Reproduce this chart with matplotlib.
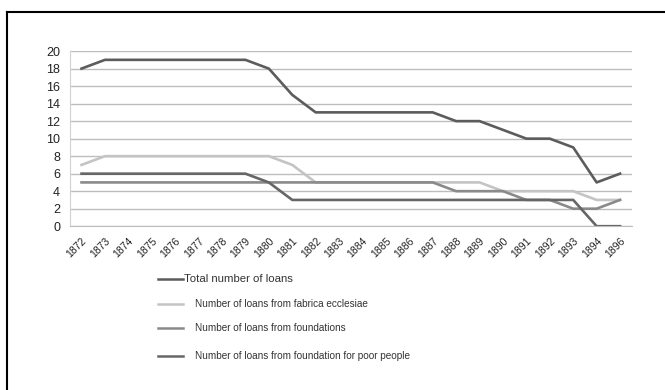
import matplotlib.pyplot as plt
from matplotlib.lines import Line2D

plt.rcParams['font.family'] = ['Liberation Sans', 'DejaVu Sans']

# Data
years = ['1872', '1873', '1874', '1875', '1876', '1877', '1878', '1879', '1880',
         '1881', '1882', '1883', '1884', '1885', '1886', '1887', '1888', '1889',
         '1890', '1891', '1892', '1893', '1894', '1896']
total = [18, 19, 19, 19, 19, 19, 19, 19, 18, 15, 13, 13, 13, 13, 13, 13,
         12, 12, 11, 10, 10, 9, 5, 6]
fabrica = [7, 8, 8, 8, 8, 8, 8, 8, 8, 7, 5, 5, 5, 5, 5, 5, 5, 5, 4, 4, 4, 4, 3, 3]
foundations = [5, 5, 5, 5, 5, 5, 5, 5, 5, 5, 5, 5, 5, 5, 5, 5, 4, 4, 4, 3, 3, 2, 2, 3]
poor = [6, 6, 6, 6, 6, 6, 6, 6, 5, 3, 3, 3, 3, 3, 3, 3, 3, 3, 3, 3, 3, 3, 0, 0]

labels = ['Total number of loans',
          'Number of loans from fabrica ecclesiae',
          'Number of loans from foundations',
          'Number of loans from foundation for poor people']
colors = ['#5c5c5c', '#c4c4c4', '#8a8a8a', '#666666']
series = [total, fabrica, foundations, poor]

fig = plt.figure(figsize=(6.65, 3.9), dpi=100)
ax = fig.add_axes([0.105, 0.42, 0.845, 0.449])

x = range(len(years))
# draw fabrica first so darker lines sit on top
for i in [1, 2, 3, 0]:
    ax.plot(x, series[i], color=colors[i], lw=1.9, solid_joinstyle='round')

ax.set_xlim(-0.5, len(years) - 0.5)
ax.set_ylim(0, 20)
ax.set_yticks(range(0, 21, 2))
ax.set_xticks(list(x))
ax.set_xticklabels(years, rotation=45, ha='right', rotation_mode='anchor', fontsize=7.5)
ax.tick_params(axis='y', labelsize=9, length=0, pad=7, labelcolor='#222222')
ax.tick_params(axis='x', length=0, pad=7, labelcolor='#222222')
ax.grid(axis='y', color='#bdbdbd', lw=1)
ax.set_axisbelow(True)
for s in ['top', 'right']:
    ax.spines[s].set_visible(False)
ax.spines['left'].set_color('#d0d0d0')
ax.spines['bottom'].set_color('#bdbdbd')

# legend drawn by hand below the chart
leg_y = [279, 304, 328, 356]
for i in range(4):
    yy = 1 - leg_y[i] / 390
    fig.add_artist(Line2D([158 / 665, 183 / 665], [yy, yy], color=colors[i], lw=1.8))
    if i == 0:
        fig.text(184 / 665, yy, labels[i], fontsize=8.2, va='center', color='#333333')
    else:
        fig.text(195 / 665, yy, labels[i], fontsize=7.2, va='center', color='#333333')

# frame lines (image is cropped, only left and top edges visible)
fig.add_artist(Line2D([7 / 665, 7 / 665], [0, 1 - 12 / 390], color='black', lw=1.5))
fig.add_artist(Line2D([7 / 665, 1], [1 - 12 / 390, 1 - 12 / 390], color='black', lw=1.5))

fig.savefig('out.png', dpi=100)
